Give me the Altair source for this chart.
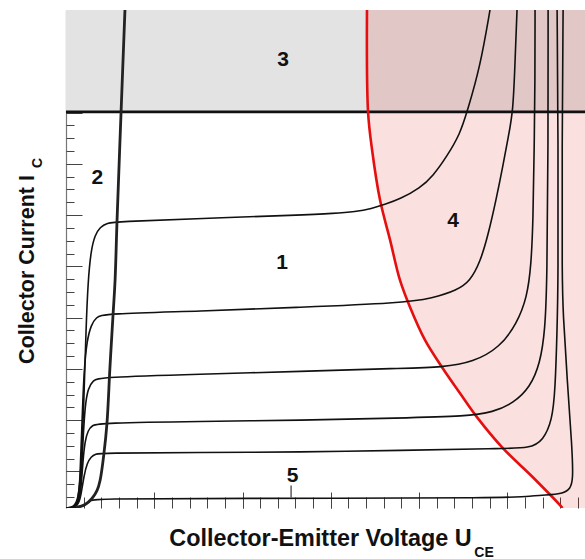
import altair as alt
import pandas as pd

# ---------------- data (x: U_CE, y: I_C, arbitrary units = minor tick steps) ----------
X_MAX = 29.4
Y_MAX = 38.85
IC_MAX = 30.9          # maximum collector current (thick horizontal line)

# output characteristics, highest base current first
curve_a_x = [0, 0.68, 0.85, 1.02, 1.13, 1.25, 1.42, 1.64, 1.93, 2.32, 2.89, 7.59, 13.26, 15.2, 16.4,
             17.3, 18.1, 18.92, 20.06, 20.79, 21.59, 22.32, 22.72, 23.46, 24.02]
curve_a_y = [0, 0.04, 2.93, 8.40, 13.87, 17.77, 20.12, 21.29, 21.91, 22.23, 22.33, 22.59, 22.85, 22.98,
             23.12, 23.35, 23.70, 24.10, 24.96, 25.90, 27.46, 29.18, 30.90, 34.41, 38.87]
curve_b_x = [0, 0.68, 0.79, 0.91, 1.02, 1.19, 1.42, 1.70, 2.15, 7.59, 13.26, 18.92, 20.79, 22.15, 22.89,
             23.46, 23.91, 24.36, 24.76, 25.04, 25.33, 25.44, 25.55]
curve_b_y = [0, 0.04, 2.15, 6.84, 10.74, 13.09, 14.26, 14.88, 15.16, 15.35, 15.66, 15.98, 16.37, 16.99,
             17.7, 19.18, 21.29, 24.02, 26.76, 28.87, 30.90, 34.96, 38.87]
curve_c_x = [0, 0.68, 0.85, 0.96, 1.08, 1.25, 1.53, 1.93, 7.59, 13.26, 18.92, 21.36, 23.06, 24.59, 25.55,
             26.12, 26.35, 26.46, 26.52, 26.57, 26.57]
curve_c_y = [0, 0.04, 1.76, 5.27, 8.01, 9.34, 9.96, 10.2, 10.43, 10.66, 10.9, 10.98, 11.37, 12.54, 14.41,
             16.45, 18.95, 22.46, 27.93, 33.4, 38.87]
curve_d_x = [0, 0.68, 0.85, 0.96, 1.08, 1.25, 1.47, 1.93, 7.59, 13.26, 18.92, 22.72, 24.19, 25.33, 26.29,
             26.86, 27.14, 27.25, 27.31, 27.31]
curve_d_y = [0, 0.04, 1.37, 3.71, 5.27, 6.05, 6.45, 6.63, 6.76, 6.84, 7.02, 7.15, 7.48, 8.16, 9.41,
             11.29, 13.87, 17.77, 27.93, 38.87]
curve_e_x = [0, 0.68, 0.85, 1.02, 1.19, 1.42, 1.70, 1.93, 7.59, 13.26, 18.92, 24.59, 26.29, 27.03, 27.54,
             27.71, 27.82, 27.88, 27.88, 27.82]
curve_e_y = [0, 0.04, 0.98, 2.54, 3.48, 4.02, 4.22, 4.28, 4.34, 4.36, 4.49, 4.65, 4.65, 5.27, 6.84,
             9.18, 13.87, 17.77, 27.93, 38.87]
# cut-off curve (region 5)
curve_5_x = [0, 0.79, 1.08, 1.36, 1.64, 8.7, 25.89, 26.06, 28.16, 28.56, 28.73, 28.67, 28.39,
             28.16, 28.10, 28.10, 28.16]
curve_5_y = [0, 0.04, 0.2, 0.59, 0.72, 0.75, 0.78, 0.94, 1.05, 1.52, 2.15, 4.73, 9.96,
             15.2, 17.77, 27.93, 38.87]

# saturation boundary (region 2)
sat_x = [0.57, 1.08, 1.47, 1.76, 1.93, 2.15, 2.32, 2.49, 2.66, 2.78, 2.89, 3.12, 3.34]
sat_y = [0.04, 0.27, 0.74, 1.37, 2.15, 4.26, 6.60, 10.98, 14.96, 17.77, 22.38, 30.9, 38.87]

# maximum power hyperbola (region 4)
pmax_x = [17.05, 17.11, 17.34, 17.79, 18.36, 18.92, 19.49, 20.34, 21.30, 22.32, 23.29, 24.76, 26.46,
          28.10, 28.12]
pmax_y = [38.87, 30.9, 27.93, 24.02, 20.9, 17.77, 15.66, 13.09, 10.98, 8.95, 7.07, 4.65, 2.38,
          0.04, 0.0]

region_labels = ["1", "2", "3", "4", "5"]
label_x = [12.24, 1.78, 12.3, 21.93, 12.83]
label_y = [19.1, 25.78, 34.96, 22.38, 2.5]
leader_x = [12.75]
leader_y = [1.76]
leader_y2 = [0.82]

x_minor = list(range(1, 30))
x_major = [5, 10, 15, 20, 25]
y_minor = [round(0.85 + k, 2) for k in range(38)]
y_major = [round(2.85 + 4 * k, 2) for k in range(9)]

# ---------------- tables ----------------
rows = []
for name, cx, cy in [("A", curve_a_x, curve_a_y), ("B", curve_b_x, curve_b_y),
                     ("C", curve_c_x, curve_c_y), ("D", curve_d_x, curve_d_y),
                     ("E", curve_e_x, curve_e_y), ("5", curve_5_x, curve_5_y)]:
    for i, (a, b) in enumerate(zip(cx, cy)):
        rows.append({"curve": name, "i": i, "u": a, "ic": b})
curves_df = pd.DataFrame(rows)
sat_df = pd.DataFrame({"u": sat_x, "ic": sat_y, "i": range(len(sat_x))})
pmax_df = pd.DataFrame({"u": pmax_x, "ic": pmax_y, "i": range(len(pmax_x))})
area_x = pmax_x + [X_MAX]
area_y = pmax_y + [0.0]
area_df = pd.DataFrame({"u": area_x, "ic": area_y, "top": [Y_MAX] * len(area_x)})
gray_df = pd.DataFrame({"x0": [0], "x1": [X_MAX], "y0": [IC_MAX], "y1": [Y_MAX]})
imax_df = pd.DataFrame({"ic": [IC_MAX]})
lab_df = pd.DataFrame({"t": region_labels, "u": label_x, "ic": label_y})
lead_df = pd.DataFrame({"u": leader_x, "ic": leader_y, "ic2": leader_y2})

FONT = "Liberation Sans"
xs = alt.Scale(domain=[0, X_MAX], nice=False, zero=False)
ys = alt.Scale(domain=[0, Y_MAX], nice=False, zero=False)
TICK = "#444444"
SMOOTH = "catmull-rom"

ax_x_title = alt.Axis(orient="bottom", domain=False, ticks=False, labels=False, grid=False,
                      title="Collector-Emitter Voltage U", titleFont=FONT, titleFontSize=23.4,
                      titleFontWeight="bold", titleColor="#111111", titleX=254, titleY=37,
                      titleAlign="center", titleBaseline="alphabetic")
ax_y_title = alt.Axis(orient="left", domain=True, domainColor="#777777", domainWidth=1.2,
                      ticks=False, labels=False, grid=False,
                      title="Collector Current I", titleFont=FONT, titleFontSize=21.5,
                      titleFontWeight="bold", titleColor="#111111", titleAngle=270,
                      titleX=-33, titleY=259, titleAlign="center", titleBaseline="alphabetic")
ax_x_minor = alt.Axis(orient="bottom", values=x_minor, offset=-11, tickSize=11, tickColor=TICK,
                      tickWidth=1, domain=False, labels=False, grid=False, title=None)
ax_y_minor = alt.Axis(orient="left", values=y_minor, offset=-8, tickSize=8, tickColor=TICK,
                      tickWidth=1, domain=False, labels=False, grid=False, title=None)
ax_x_major = alt.Axis(orient="bottom", values=x_major, offset=-16, tickSize=16, tickColor=TICK,
                      tickWidth=1, domain=False, labels=False, grid=False, title=None)
ax_y_major = alt.Axis(orient="left", values=y_major, offset=-16, tickSize=16, tickColor=TICK,
                      tickWidth=1, domain=False, labels=False, grid=False, title=None)
ax_x_top = alt.Axis(orient="top", domain=True, domainColor="#999999", domainWidth=1.2,
                    ticks=False, labels=False, grid=False, title=None)

region3 = alt.Chart(gray_df).mark_rect(color="#e3e3e3").encode(
    x=alt.X("x0:Q", scale=xs, axis=ax_x_title), x2="x1:Q",
    y=alt.Y("y0:Q", scale=ys, axis=ax_y_title), y2="y1:Q")

region4 = alt.Chart(area_df).mark_area(color="#e00000", opacity=0.12, clip=True,
                                       interpolate=SMOOTH).encode(
    x=alt.X("u:Q", scale=xs, axis=ax_x_minor),
    y=alt.Y("ic:Q", scale=ys, axis=ax_y_minor), y2="top:Q")

imax_line = alt.Chart(imax_df).mark_rule(color="#111111", strokeWidth=2.8).encode(
    y=alt.Y("ic:Q", scale=ys, axis=None))

pmax_line = alt.Chart(pmax_df).mark_line(color="#e41010", strokeWidth=2.6, clip=True,
                                         interpolate=SMOOTH).encode(
    x=alt.X("u:Q", scale=xs, axis=ax_x_top), y=alt.Y("ic:Q", scale=ys, axis=None), order="i:Q")

curves = alt.Chart(curves_df).mark_line(color="#111111", strokeWidth=1.6, clip=True,
                                        interpolate="basis").encode(
    x=alt.X("u:Q", scale=xs, axis=ax_x_major), y=alt.Y("ic:Q", scale=ys, axis=ax_y_major),
    detail="curve:N", order="i:Q")

sat_line = alt.Chart(sat_df).mark_line(color="#222222", strokeWidth=2.8, clip=True,
                                       interpolate=SMOOTH).encode(
    x=alt.X("u:Q", scale=xs, axis=None), y=alt.Y("ic:Q", scale=ys, axis=None), order="i:Q")

leader = alt.Chart(lead_df).mark_rule(color="#333333", strokeWidth=1.2).encode(
    x=alt.X("u:Q", scale=xs, axis=None), y=alt.Y("ic:Q", scale=ys, axis=None), y2="ic2:Q")

labels = alt.Chart(lab_df).mark_text(font=FONT, fontSize=21, fontWeight="bold", color="#111111",
                                     align="center", baseline="middle").encode(
    x=alt.X("u:Q", scale=xs, axis=None), y=alt.Y("ic:Q", scale=ys, axis=None), text="t:N")

sub_x = alt.Chart(pd.DataFrame({"t": ["CE"]})).mark_text(
    font=FONT, fontSize=14, fontWeight="bold", color="#111111", align="center",
    baseline="alphabetic").encode(text="t:N", x=alt.value(418), y=alt.value(547))
sub_y = alt.Chart(pd.DataFrame({"t": ["C"]})).mark_text(
    font=FONT, fontSize=14, fontWeight="bold", color="#111111", align="center",
    baseline="middle", angle=270).encode(text="t:N", x=alt.value(-28.5), y=alt.value(153))

chart = alt.layer(region3, region4, imax_line, pmax_line, curves, sat_line, leader, labels,
                  sub_x, sub_y).resolve_axis(x="independent", y="independent").properties(
    width=519, height=498,
    padding={"left": 66, "top": 10, "right": 0, "bottom": 51},
    autosize=alt.AutoSizeParams(type="none"),
    background="white",
).configure_view(stroke=None).configure_axis(grid=False)

chart.save("out.html", embed_options={"renderer": "svg", "actions": False})
